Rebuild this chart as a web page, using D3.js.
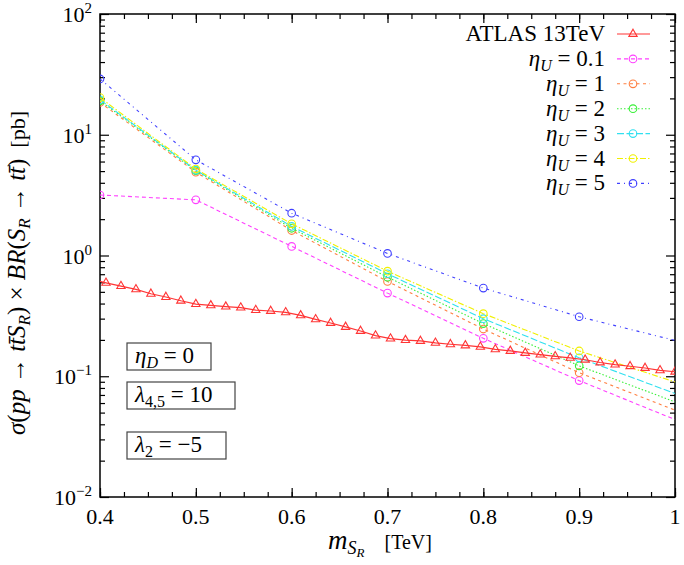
<!DOCTYPE html>
<html>
<head>
<meta charset="utf-8">
<script src="https://cdn.jsdelivr.net/npm/d3@7"></script>
<style>
  body { margin: 0; background: #fff; }
  text, tspan { font-family: "Liberation Serif", "Times New Roman", "DejaVu Serif", serif; fill: #000; }
</style>
</head>
<body>
<div id="chart"></div>
<script>
const width = 684
const height = 565
const margin = { top: 14, left: 100, right: 9, bottom: 68 }

// datos
const massPoints = [0.4, 0.5, 0.6, 0.7, 0.8, 0.9, 1.0]
const eta01 = [3.17, 2.89, 1.19, 0.488, 0.206, 0.092, 0.0438]
const eta1 = [18.5, 4.9, 1.61, 0.61, 0.246, 0.107, 0.0524]
const eta2 = [19.1, 5.04, 1.68, 0.662, 0.273, 0.122, 0.0613]
const eta3 = [19.5, 5.1, 1.74, 0.706, 0.30, 0.142, 0.072]
const eta4 = [20.3, 5.2, 1.83, 0.742, 0.33, 0.162, 0.0897]
const eta5 = [29, 6.2, 2.24, 1.04, 0.537, 0.311, 0.198]

const atlasMass = [0.390625, 0.40625, 0.421875, 0.4375, 0.453125, 0.46875, 0.484375, 0.5,
  0.515625, 0.53125, 0.546875, 0.5625, 0.578125, 0.59375, 0.609375, 0.625, 0.640625,
  0.65625, 0.671875, 0.6875, 0.703125, 0.71875, 0.734375, 0.75, 0.765625, 0.78125,
  0.796875, 0.8125, 0.828125, 0.84375, 0.859375, 0.875, 0.890625, 0.90625, 0.921875,
  0.9375, 0.953125, 0.96875, 0.984375, 1.0]
const atlasXsec = [0.634, 0.594, 0.558, 0.524, 0.482, 0.453, 0.422, 0.396,
  0.386, 0.377, 0.370, 0.353, 0.347, 0.338, 0.319, 0.296, 0.276,
  0.256, 0.237, 0.217, 0.205, 0.199, 0.196, 0.189, 0.184, 0.180,
  0.175, 0.167, 0.162, 0.156, 0.151, 0.146, 0.142, 0.137, 0.130,
  0.125, 0.121, 0.117, 0.112, 0.109]

const xTicks = [0.4, 0.5, 0.6, 0.7, 0.8, 0.9, 1]
const xTickLabels = ["0.4", "0.5", "0.6", "0.7", "0.8", "0.9", "1"]
const yTicks = [1e-2, 1e-1, 1, 10, 100]
const yTickExp = ["\u22122", "\u22121", "0", "1", "2"]

const series = [
  { name: "0.1", values: eta01, color: "#ff40ff", dash: "4,3" },
  { name: "1", values: eta1, color: "#ff7f40", dash: "3,3.5" },
  { name: "2", values: eta2, color: "#38f038", dash: "1.5,2" },
  { name: "3", values: eta3, color: "#30e0f0", dash: "7,2.5" },
  { name: "4", values: eta4, color: "#f0f000", dash: "6,2,1.5,2" },
  { name: "5", values: eta5, color: "#4040ff", dash: "3,4,1,4" }
]
const atlasColor = "#ff3535"
const serif = "'Liberation Serif', 'Times New Roman', serif"

const svg = d3.select("#chart").append("svg").attr("width", width).attr("height", height)
  .style("font-family", serif)
svg.append("rect").attr("width", width).attr("height", height).attr("fill", "#fff")

const iw = width - margin.left - margin.right
const ih = height - margin.top - margin.bottom

const x = d3.scaleLinear().domain([0.4, 1]).range([0, iw])
const y = d3.scaleLog().domain([1e-2, 1e2]).range([ih, 0])

const g = svg.append("g").attr("transform", `translate(${margin.left},${margin.top})`)

g.append("clipPath").attr("id", "clip").append("rect").attr("width", iw).attr("height", ih)

// ticks menores
const xMinor = d3.range(0.4, 1.0001, 0.025)
const yMinor = []
for (let e = -2; e < 2; e++) for (let m = 2; m <= 9; m++) yMinor.push(m * Math.pow(10, e))

const axG = g.append("g").attr("class", "axes")
axG.append("g").attr("transform", `translate(0,${ih})`)
  .call(d3.axisBottom(x).tickValues(xMinor).tickSize(-5).tickFormat(""))
axG.append("g").call(d3.axisTop(x).tickValues(xMinor).tickSize(-5).tickFormat(""))
axG.append("g").attr("transform", `translate(0,${ih})`)
  .call(d3.axisBottom(x).tickValues(xTicks).tickSize(-9).tickFormat(""))
axG.append("g").call(d3.axisTop(x).tickValues(xTicks).tickSize(-9).tickFormat(""))
axG.append("g").call(d3.axisLeft(y).tickValues(yMinor).tickSize(-5).tickFormat(""))
axG.append("g").attr("transform", `translate(${iw},0)`)
  .call(d3.axisRight(y).tickValues(yMinor).tickSize(-5).tickFormat(""))
axG.append("g").call(d3.axisLeft(y).tickValues(yTicks).tickSize(-9).tickFormat(""))
axG.append("g").attr("transform", `translate(${iw},0)`)
  .call(d3.axisRight(y).tickValues(yTicks).tickSize(-9).tickFormat(""))
axG.selectAll(".domain").remove()
axG.selectAll("line").attr("stroke", "#000").attr("stroke-width", 1.2)

g.append("rect").attr("width", iw).attr("height", ih)
  .attr("fill", "none").attr("stroke", "#000").attr("stroke-width", 1.5)

// etiquetas de ejes
g.selectAll(".xlab").data(xTicks).enter().append("text")
  .attr("x", d => x(d)).attr("y", ih + 27)
  .attr("text-anchor", "middle").style("font-size", "22px").style("font-family", serif)
  .text((d, i) => xTickLabels[i])

const yl = g.selectAll(".ylab").data(yTicks).enter().append("text")
  .attr("x", -8).attr("y", d => y(d) + 8)
  .attr("text-anchor", "end").style("font-size", "22px").style("font-family", serif)
yl.append("tspan").text("10")
yl.append("tspan").attr("dy", -9).style("font-size", "15px").text((d, i) => yTickExp[i])

// texto matematico
function mathText(sel, parts) {
  sel.style("font-family", serif)
  parts.forEach(p => {
    const t = sel.append("tspan").text(p.t).style("font-family", serif)
    if (p.i) t.style("font-style", "italic")
    if (p.s) t.style("font-size", p.s + "px")
    if (p.dy) t.attr("dy", p.dy)
  })
  return sel
}

const xLabel = svg.append("text").attr("x", 380).attr("y", 549)
  .attr("text-anchor", "middle").style("font-size", "27px")
mathText(xLabel, [
  { t: "m", i: true },
  { t: "S", i: true, s: 18, dy: 5 },
  { t: "R", i: true, s: 13, dy: 3 },
  { t: "\u2003[TeV]", s: 20, dy: -8 }
])

const yLabel = svg.append("text")
  .attr("transform", "translate(25,273) rotate(-90)")
  .attr("text-anchor", "middle").style("font-size", "25px")
mathText(yLabel, [
  { t: "\u03c3", i: true }, { t: "(" }, { t: "pp", i: true }, { t: " \u2192 " },
  { t: "tt\u0304", i: true }, { t: "S", i: true },
  { t: "R", i: true, s: 17, dy: 5 }, { t: ") \u00d7 ", dy: -5 },
  { t: "BR", i: true }, { t: "(" }, { t: "S", i: true },
  { t: "R", i: true, s: 17, dy: 5 }, { t: " \u2192 ", dy: -5 },
  { t: "tt\u0304", i: true }, { t: ")" }, { t: "\u2002[pb]", s: 22 }
])

// curvas
const plot = g.append("g").attr("clip-path", "url(#clip)")
const line = d3.line().x(d => x(d[0])).y(d => y(d[1]))

series.forEach(s => {
  const pts = massPoints.map((m, i) => [m, s.values[i]])
  plot.append("path").datum(pts).attr("d", line)
    .attr("fill", "none").attr("stroke", s.color).attr("stroke-width", 1.1)
    .attr("stroke-dasharray", s.dash)
  plot.selectAll(null).data(pts.filter(d => d[0] < 1)).enter().append("circle")
    .attr("cx", d => x(d[0])).attr("cy", d => y(d[1])).attr("r", 3.8)
    .attr("fill", "none").attr("stroke", s.color).attr("stroke-width", 1.1)
})

const atlasPts = atlasMass.map((m, i) => [m, atlasXsec[i]])
plot.append("path").datum(atlasPts).attr("d", line)
  .attr("fill", "none").attr("stroke", atlasColor).attr("stroke-width", 1.2)
const tri = d3.symbol().type(d3.symbolTriangle).size(30)
plot.selectAll(".tri").data(atlasPts.filter(d => d[0] >= 0.4)).enter().append("path")
  .attr("d", tri).attr("transform", d => `translate(${x(d[0])},${y(d[1])})`)
  .attr("fill", "none").attr("stroke", atlasColor).attr("stroke-width", 1.1)

// leyenda
const legend = svg.append("g")
const legendRows = [{ label: "ATLAS 13TeV", color: atlasColor, dash: null, tri: true }]
  .concat(series.map(s => ({ label: s.name, color: s.color, dash: s.dash, tri: false })))
legendRows.forEach((r, i) => {
  const ly = 34 + i * 24.9
  const t = legend.append("text").attr("x", 605).attr("y", ly + 7)
    .attr("text-anchor", "end").style("font-size", "23px")
  if (r.tri) t.style("font-family", serif).text(r.label)
  else mathText(t, [
    { t: "\u03b7", i: true }, { t: "U", i: true, s: 16, dy: 5 },
    { t: " = " + r.label, dy: -5 }
  ])
  legend.append("line").attr("x1", 617).attr("x2", 650).attr("y1", ly).attr("y2", ly)
    .attr("stroke", r.color).attr("stroke-width", 1.1)
    .attr("stroke-dasharray", r.dash)
  if (r.tri) legend.append("path").attr("d", tri)
    .attr("transform", `translate(633,${ly})`)
    .attr("fill", "none").attr("stroke", r.color).attr("stroke-width", 1.1)
  else legend.append("circle").attr("cx", 633).attr("cy", ly).attr("r", 3.8)
    .attr("fill", "none").attr("stroke", r.color).attr("stroke-width", 1.1)
})

// cajas de parametros
const boxes = [
  { y: 343, w: 84, parts: [{ t: "\u03b7", i: true }, { t: "D", i: true, s: 16, dy: 5 }, { t: " = 0", dy: -5 }] },
  { y: 382, w: 108, parts: [{ t: "\u03bb", i: true }, { t: "4,5", s: 16, dy: 5 }, { t: " = 10", dy: -5 }] },
  { y: 432, w: 99, parts: [{ t: "\u03bb", i: true }, { t: "2", s: 16, dy: 5 }, { t: " = \u22125", dy: -5 }] }
]
boxes.forEach(b => {
  svg.append("rect").attr("x", 127).attr("y", b.y).attr("width", b.w).attr("height", 27)
    .attr("fill", "#fff").attr("stroke", "#444").attr("stroke-width", 1.2)
  const t = svg.append("text").attr("x", 135).attr("y", b.y + 20).style("font-size", "23px")
  mathText(t, b.parts)
})
</script>
</body>
</html>
